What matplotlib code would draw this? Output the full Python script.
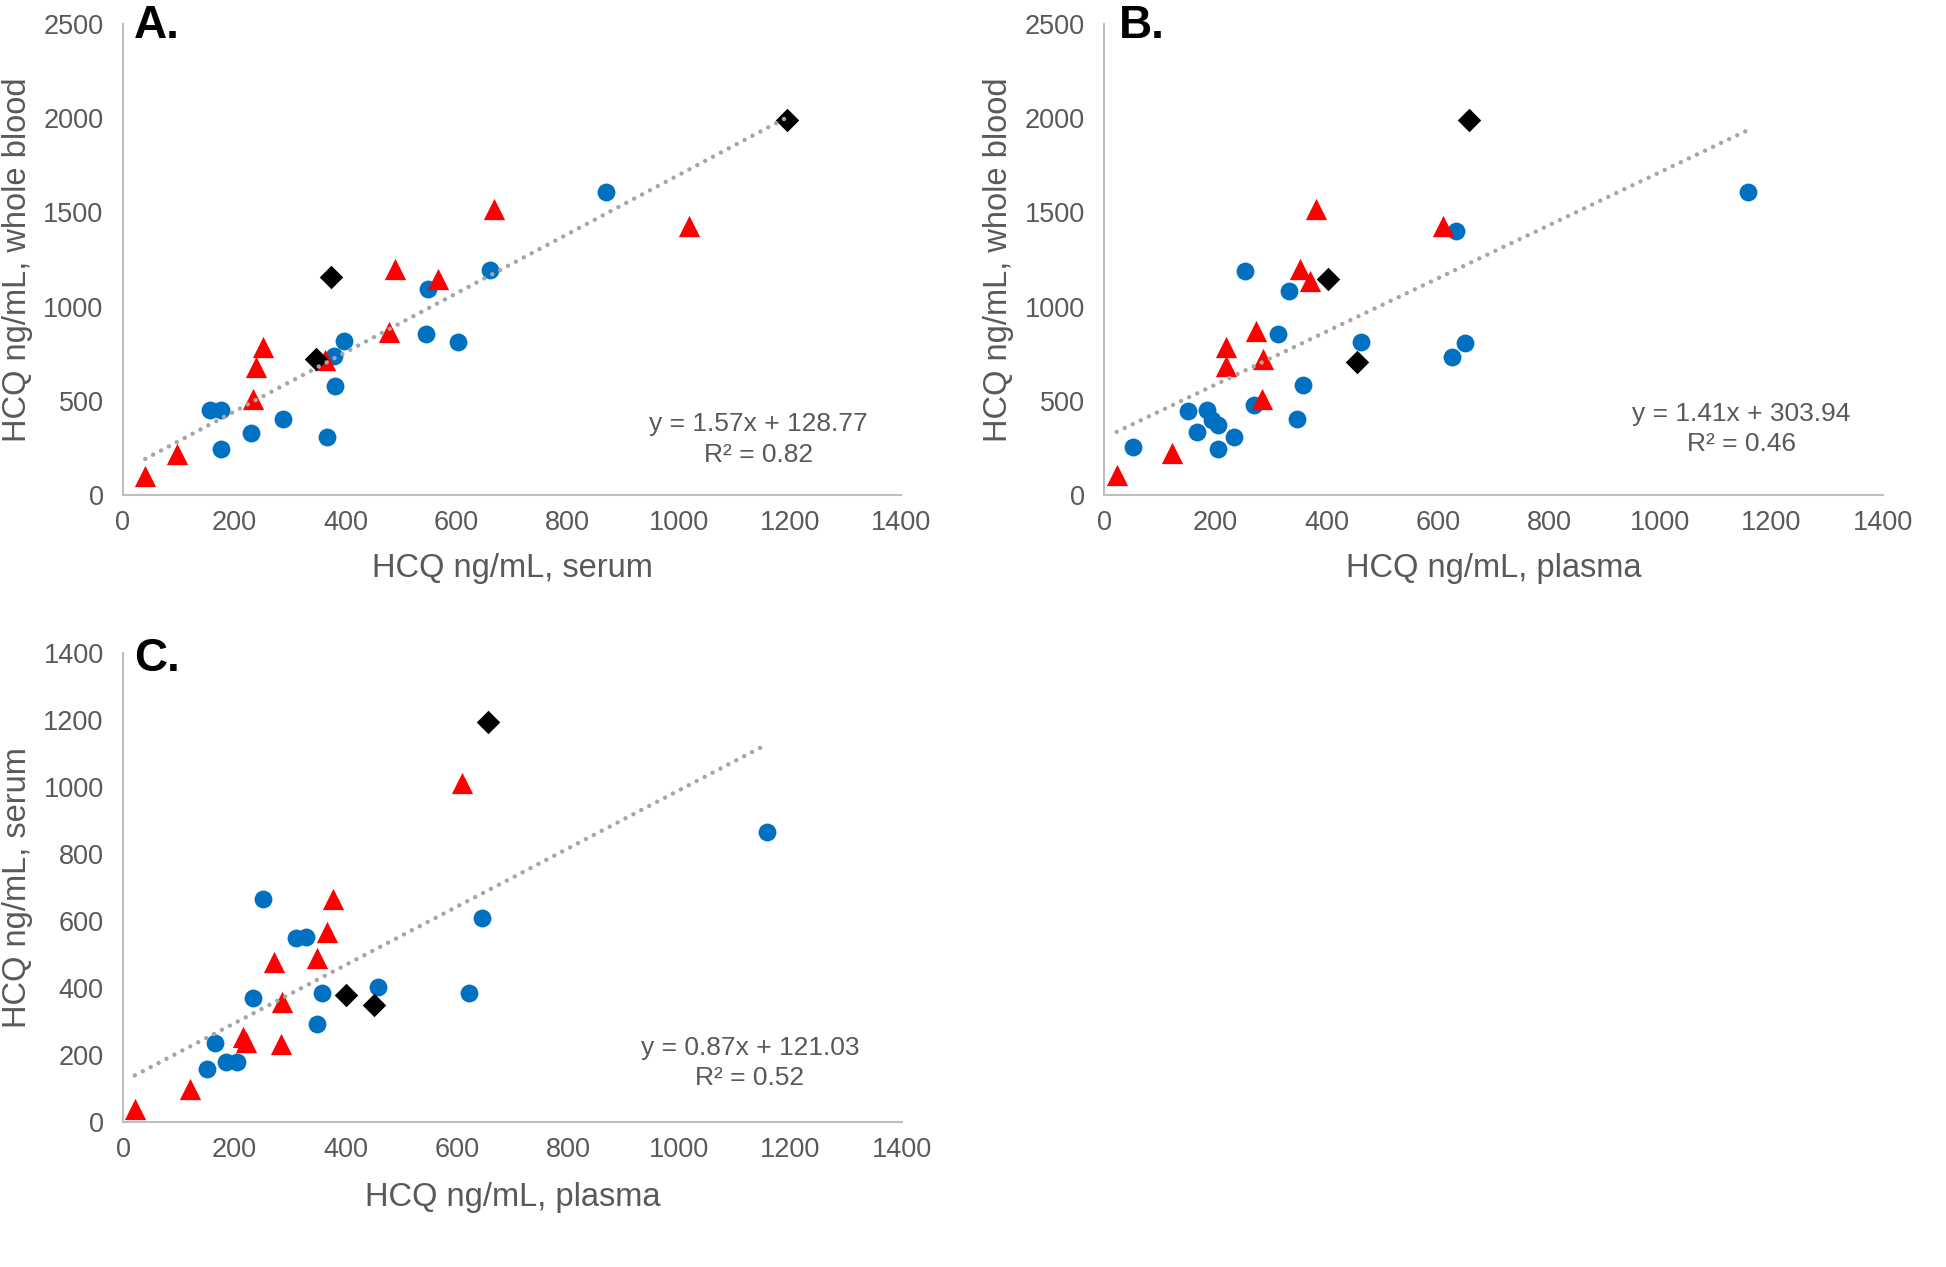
import numpy as np
import matplotlib
matplotlib.use("Agg")
import matplotlib.pyplot as plt

plt.rcParams['font.family'] = ['Liberation Sans', 'DejaVu Sans']

# ---------------- DATA ----------------
# A. serum (x) vs whole blood (y)
a_blue_x = [156, 176, 177, 231, 288, 367, 382, 380, 398, 545, 602, 548, 660, 868]
a_blue_y = [451, 451, 242, 331, 401, 309, 580, 739, 819, 854, 813, 1093, 1194, 1607]
a_red_x = [40, 98, 233, 239, 252, 363, 478, 490, 567, 667, 1018]
a_red_y = [100, 216, 508, 681, 787, 716, 866, 1199, 1144, 1519, 1427]
a_blk_x = [347, 374, 1195]
a_blk_y = [720, 1155, 1992]

# B. plasma (x) vs whole blood (y)
b_blue_x = [52, 151, 166, 185, 193, 205, 204, 233, 269, 312, 347, 358, 253, 332, 461, 626, 649, 633, 1158]
b_blue_y = [253, 447, 333, 451, 398, 371, 244, 309, 477, 854, 403, 584, 1188, 1085, 810, 733, 804, 1402, 1606]
b_red_x = [22, 122, 218, 218, 283, 286, 273, 351, 369, 380, 609]
b_red_y = [106, 221, 684, 787, 508, 720, 872, 1198, 1133, 1519, 1427]
b_blk_x = [402, 455, 655]
b_blk_y = [1147, 708, 1992]

# C. plasma (x) vs serum (y)
c_blue_x = [150, 166, 185, 204, 233, 251, 311, 329, 348, 358, 458, 622, 645, 1158]
c_blue_y = [158, 235, 178, 178, 371, 665, 550, 553, 292, 386, 402, 384, 608, 865]
c_red_x = [21, 121, 216, 221, 284, 285, 271, 348, 367, 378, 610]
c_red_y = [38, 98, 253, 240, 233, 359, 478, 489, 568, 665, 1012]
c_blk_x = [400, 452, 656]
c_blk_y = [379, 349, 1195]

# linear fits printed on the chart
slopes = [1.57, 1.41, 0.87]
intercepts = [128.77, 303.94, 121.03]
r2_values = [0.82, 0.46, 0.52]

panel_letters = ['A.', 'B.', 'C.']
x_labels = ['HCQ ng/mL, serum', 'HCQ ng/mL, plasma', 'HCQ ng/mL, plasma']
y_labels = ['HCQ ng/mL, whole blood', 'HCQ ng/mL, whole blood', 'HCQ ng/mL, serum']

BLUE = '#0070C0'
RED = '#FF0000'
GREY_TXT = '#595959'
GREY_AX = '#BFBFBF'
GREY_LINE = '#A6A6A6'


def draw_panel(ax, blue, red, blk, k, ymax, ystep, eq_pos):
    ax.scatter(blue[0], blue[1], s=165, marker='o', color=BLUE, linewidths=0, zorder=3)
    ax.scatter(red[0], red[1], s=235, marker='^', color=RED, linewidths=0, zorder=3)
    ax.scatter(blk[0], blk[1], s=143, marker='D', color='black', linewidths=0, zorder=4)

    # trend line over the data range
    all_x = np.array(blue[0] + red[0] + blk[0])
    xs = np.linspace(all_x.min(), all_x.max(), 50)
    ax.plot(xs, slopes[k] * xs + intercepts[k], color=GREY_LINE, lw=3.2,
            linestyle=(0, (0.01, 2.0)), dash_capstyle='round', zorder=5)

    ax.set_xlim(0, 1400)
    ax.set_ylim(0, ymax)
    ax.set_xticks(np.arange(0, 1401, 200))
    ax.set_yticks(np.arange(0, ymax + 1, ystep))
    ax.tick_params(length=0, labelsize=19.5, colors=GREY_TXT)
    ax.tick_params(axis='y', pad=14)
    ax.tick_params(axis='x', pad=11)
    for s in ['top', 'right']:
        ax.spines[s].set_visible(False)
    for s in ['left', 'bottom']:
        ax.spines[s].set_color(GREY_AX)
        ax.spines[s].set_linewidth(1.5)

    ax.set_xlabel(x_labels[k], fontsize=23.5, color=GREY_TXT)
    ax.set_ylabel(y_labels[k], fontsize=23.5, color=GREY_TXT)
    ax.xaxis.label.set_va('center')
    ax.yaxis.label.set_va('center')
    ax.xaxis.set_label_coords(0.5, eq_pos[3])
    ax.yaxis.set_label_coords(-0.136, 0.5)

    ax.text(eq_pos[0], eq_pos[1], f"y = {slopes[k]:.2f}x + {intercepts[k]:.2f}",
            transform=ax.transAxes, ha='center', va='center', fontsize=19, color=GREY_TXT)
    ax.text(eq_pos[0], eq_pos[2], f"R² = {r2_values[k]:.2f}",
            transform=ax.transAxes, ha='center', va='center', fontsize=19, color=GREY_TXT)

    ax.text(eq_pos[4], eq_pos[5], panel_letters[k], transform=ax.transAxes,
            ha='left', va='top', fontsize=33, fontweight='bold', color='black')


fig = plt.figure(figsize=(19.46, 12.67), dpi=100)
ax_a = fig.add_axes([0.0632, 0.6093, 0.4, 0.3719])
ax_b = fig.add_axes([0.5675, 0.6093, 0.4, 0.3719])
ax_c = fig.add_axes([0.0633, 0.1144, 0.4, 0.370])

draw_panel(ax_a, (a_blue_x, a_blue_y), (a_red_x, a_red_y), (a_blk_x, a_blk_y), 0,
           2500, 500, (0.816, 0.150, 0.084, -0.155, 0.014, 1.042))
draw_panel(ax_b, (b_blue_x, b_blue_y), (b_red_x, b_red_y), (b_blk_x, b_blk_y), 1,
           2500, 500, (0.818, 0.171, 0.108, -0.155, 0.019, 1.042))
draw_panel(ax_c, (c_blue_x, c_blue_y), (c_red_x, c_red_y), (c_blk_x, c_blk_y), 2,
           1400, 200, (0.805, 0.159, 0.095, -0.161, 0.014, 1.034))

fig.savefig('out.png', dpi=100, facecolor='white')
